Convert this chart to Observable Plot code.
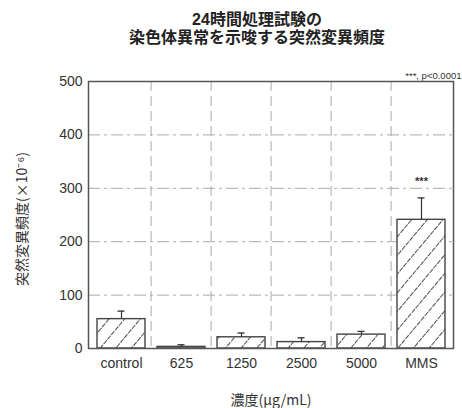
<!DOCTYPE html>
<html>
<head>
<meta charset="utf-8">
<script src="https://cdn.jsdelivr.net/npm/d3@7"></script>
<script src="https://cdn.jsdelivr.net/npm/@observablehq/plot@0.6"></script>
<style>
  html, body { margin: 0; padding: 0; background: #fff; }
  #wrap { position: relative; width: 462px; height: 408px; }
  .title {
    position: absolute; left: 0; width: 520px; margin-left: -3px; height: 18px;
    text-align: center; font-family: "Liberation Sans", "Noto Sans CJK JP", sans-serif;
    font-weight: bold; font-size: 16px; line-height: 18px; color: #222;
  }
  #t1 { top: 11px; }
  #t2 { top: 29px; }
  #chart { position: absolute; left: 0; top: 0; }
</style>
</head>
<body>
<div id="wrap">
  <div id="chart"></div>
  <div class="title" id="t1">24時間処理試験の</div>
  <div class="title" id="t2">染色体異常を示唆する突然変異頻度</div>
</div>
<script>
// Small-colony mutant frequency after 24 h treatment (mean and upper SD)
const categories = ["control", "625", "1250", "2500", "5000", "MMS"];
const means      = [55, 3, 21, 12, 26, 241];
const upperSD    = [70, 7, 29, 20, 32, 282];
const marks      = ["", "", "", "", "", "***"];
const yTicks     = [0, 100, 200, 300, 400, 500];
const gridValues = [100, 200, 300, 400];

const data = categories.map((c, i) => ({cat: c, mean: means[i], upper: upperSD[i], mark: marks[i]}));

const W = 462, H = 408;
const mL = 88, mR = 9, mT = 81, mB = 60;
const step = (W - mL - mR) / categories.length;

const latin = "Liberation Sans, Arial, sans-serif";
const jp = "Noto Sans CJK JP, sans-serif";

const chart = Plot.plot({
  width: W, height: H,
  marginLeft: mL, marginRight: mR, marginTop: mT, marginBottom: mB,
  style: {fontFamily: latin, fontSize: "14px", color: "#333", background: "#fff"},
  x: {domain: categories, paddingInner: 0.2, paddingOuter: 0.1, label: null},
  y: {domain: [0, 500], label: null},
  marks: [
    // dashed grid
    Plot.ruleY(gridValues, {stroke: "#aaa", strokeWidth: 1, strokeDasharray: "12,4,3,4"}),
    Plot.ruleX(categories.slice(1), {dx: -step / 2, stroke: "#aaa", strokeWidth: 1, strokeDasharray: "10,5"}),
    // bars with hatching
    Plot.barY(data, {x: "cat", y: "mean", fill: "url(#hatch)", stroke: "#444", strokeWidth: 1.4}),
    // error bars
    Plot.ruleX(data, {x: "cat", y1: "mean", y2: "upper", stroke: "#333", strokeWidth: 1.2}),
    Plot.tickY(data, {x: "cat", y: "upper", stroke: "#333", strokeWidth: 1.3, insetLeft: 20.5, insetRight: 20.5}),
    // significance
    Plot.text(data, {x: "cat", y: "upper", text: "mark", dy: -16, fontSize: 11, fontWeight: "bold", fill: "#333"}),
    Plot.text(["***, p<0.0001"], {frameAnchor: "top-right", dy: -9, dx: 8, fontSize: 9.5, fill: "#333", textAnchor: "end"}),
    Plot.frame({stroke: "#555", strokeWidth: 1.5}),
    Plot.axisY({ticks: yTicks, tickSize: 0, tickPadding: 6, label: null, fontSize: 14}),
    Plot.axisX({tickSize: 0, tickPadding: 10, label: null, fontSize: 14}),
    // axis titles
    Plot.text(["濃度(μg/mL)"], {frameAnchor: "bottom", dy: 56, fontFamily: jp, fontSize: 14, fill: "#333"}),
    Plot.text(["突然変異頻度(×10⁻⁶)"], {frameAnchor: "left", dx: -66, dy: 4, rotate: -90, textAnchor: "middle", fontFamily: jp, fontSize: 14, fill: "#333"})
  ]
});

// diagonal hatch pattern for the bars
const svg = d3.select(chart);
const defs = svg.insert("defs", ":first-child");
const pat = defs.append("pattern")
  .attr("id", "hatch")
  .attr("patternUnits", "userSpaceOnUse")
  .attr("width", 12).attr("height", 12)
  .attr("patternTransform", "rotate(40)");
pat.append("rect").attr("width", 12).attr("height", 12).attr("fill", "#fff");
pat.append("line").attr("x1", 0).attr("y1", 0).attr("x2", 0).attr("y2", 12)
  .attr("stroke", "#222").attr("stroke-width", 1.6).attr("stroke-dasharray", "5,1");

document.getElementById("chart").appendChild(chart);
</script>
</body>
</html>
